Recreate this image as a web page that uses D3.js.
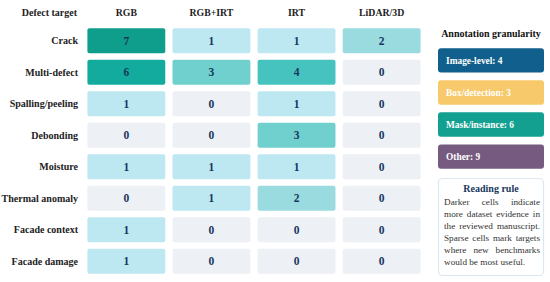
<!DOCTYPE html>
<html>
<head>
<meta charset="utf-8">
<script src="https://cdn.jsdelivr.net/npm/d3@7"></script>
<style>
  body { margin: 0; background: #fff; }
</style>
</head>
<body>
<svg id="chart"></svg>
<script>
const targets = ["Crack", "Multi-defect", "Spalling/peeling", "Debonding", "Moisture",
  "Thermal anomaly", "Facade context", "Facade damage"];
const modalities = ["RGB", "RGB+IRT", "IRT", "LiDAR/3D"];
const rgbCounts = [7, 6, 1, 0, 1, 0, 1, 1];
const rgbIrtCounts = [1, 3, 0, 0, 1, 1, 0, 0];
const irtCounts = [1, 4, 1, 3, 1, 2, 0, 0];
const lidarCounts = [2, 0, 0, 0, 0, 0, 0, 0];
const granularity = ["Image-level", "Box/detection", "Mask/instance", "Other"];
const granularityCounts = [4, 3, 6, 9];
const noteLines = ["Darker cells indicate", "more dataset evidence in", "the reviewed manuscript.",
  "Sparse cells mark targets", "where new benchmarks", "would be most useful."];

const width = 550, height = 282;
const svg = d3.select("#chart").attr("width", width).attr("height", height)
  .attr("font-family", "'Liberation Serif', 'Times New Roman', serif");

const series = [rgbCounts, rgbIrtCounts, irtCounts, lidarCounts];
var cells = [];
targets.forEach((t, i) => {
  modalities.forEach((m, j) => {
    cells.push({ target: t, modality: m, value: series[j][i] });
  });
});

const x = d3.scaleBand().domain(modalities).range([84, 424]).paddingInner(0.085).paddingOuter(0.04);
const y = d3.scaleBand().domain(targets).range([25, 277]).paddingInner(0.2).paddingOuter(0.1);

const color = d3.scaleLinear()
  .domain([0, 1, 2, 3, 4, 6, 7])
  .range(["#edf0f5", "#bde7f1", "#9adbe0", "#70d0cd", "#46c3bf", "#13ab9e", "#0f9e8c"]);

// headers
svg.append("text")
  .attr("x", 77).attr("y", 16)
  .attr("text-anchor", "end")
  .style("font-weight", "bold").style("font-size", "10px").style("fill", "#222")
  .text("Defect target");

svg.selectAll(".colhead")
  .data(modalities)
  .enter()
  .append("text")
  .attr("class", "colhead")
  .attr("x", (d) => x(d) + x.bandwidth() / 2)
  .attr("y", 16)
  .attr("text-anchor", "middle")
  .style("font-weight", "bold").style("font-size", "9.8px").style("fill", "#222")
  .text((d) => d);

svg.selectAll(".rowlabel")
  .data(targets)
  .enter()
  .append("text")
  .attr("class", "rowlabel")
  .attr("x", 78)
  .attr("y", (d) => y(d) + y.bandwidth() / 2)
  .attr("dy", "0.35em")
  .attr("text-anchor", "end")
  .style("font-weight", "bold").style("font-size", "10px").style("fill", "#222")
  .text((d) => d);

// cells
var g = svg.selectAll(".cell")
  .data(cells)
  .enter()
  .append("g")
  .attr("class", "cell");

g.append("rect")
  .attr("x", (d) => x(d.modality))
  .attr("y", (d) => y(d.target))
  .attr("width", x.bandwidth())
  .attr("height", y.bandwidth())
  .attr("rx", 2)
  .style("fill", (d) => color(d.value));

g.append("text")
  .attr("x", (d) => x(d.modality) + x.bandwidth() / 2)
  .attr("y", (d) => y(d.target) + y.bandwidth() / 2)
  .attr("dy", "0.36em")
  .attr("text-anchor", "middle")
  .style("font-weight", "bold").style("font-size", "11.5px").style("fill", "#17375e")
  .text((d) => d.value);

// legend
const legendColor = d3.scaleOrdinal().domain(granularity)
  .range(["#115f8c", "#f7c96a", "#13a090", "#765a80"]);
const ly = d3.scaleBand().domain(granularity).range([45, 172]).paddingInner(0.24).paddingOuter(0.1);
const legendX = 438, legendW = 106;

svg.append("text")
  .attr("x", legendX + legendW / 2).attr("y", 37)
  .attr("text-anchor", "middle")
  .style("font-weight", "bold").style("font-size", "10px").style("fill", "#111")
  .text("Annotation granularity");

var lg = svg.selectAll(".legitem")
  .data(granularity)
  .enter()
  .append("g")
  .attr("class", "legitem");

lg.append("rect")
  .attr("x", legendX)
  .attr("y", (d) => ly(d))
  .attr("width", legendW)
  .attr("height", ly.bandwidth())
  .attr("rx", 3)
  .style("fill", (d) => legendColor(d));

lg.append("text")
  .attr("x", legendX + 8)
  .attr("y", (d) => ly(d) + ly.bandwidth() / 2)
  .attr("dy", "0.35em")
  .style("font-weight", "bold").style("font-size", "9.4px").style("fill", "#fff")
  .text((d, i) => d + ": " + granularityCounts[i]);

// reading rule box
svg.append("rect")
  .attr("x", legendX + 0.5).attr("y", 178.5)
  .attr("width", legendW - 1).attr("height", 97)
  .attr("rx", 4)
  .style("fill", "#fff").style("stroke", "#dbe8f0").style("stroke-width", 1.2);

svg.append("text")
  .attr("x", legendX + legendW / 2).attr("y", 192)
  .attr("text-anchor", "middle")
  .style("font-weight", "bold").style("font-size", "10px").style("fill", "#17375e")
  .text("Reading rule");

const textLeft = 444, textRight = 540;
noteLines.forEach((line, i) => {
  var words = line.split(" ");
  var ty = 205 + i * 12;
  var tg = svg.append("g");
  var nodes = words.map((w) => tg.append("text")
    .attr("y", ty)
    .style("font-size", "9.2px").style("fill", "#333")
    .text(w));
  var widths = nodes.map((n) => n.node().getComputedTextLength());
  var total = d3.sum(widths);
  var gap = (i < noteLines.length - 1 && words.length > 1)
    ? (textRight - textLeft - total) / (words.length - 1)
    : 2.3;
  var cx = textLeft;
  nodes.forEach((n, k) => {
    n.attr("x", cx);
    cx += widths[k] + gap;
  });
});
</script>
</body>
</html>
